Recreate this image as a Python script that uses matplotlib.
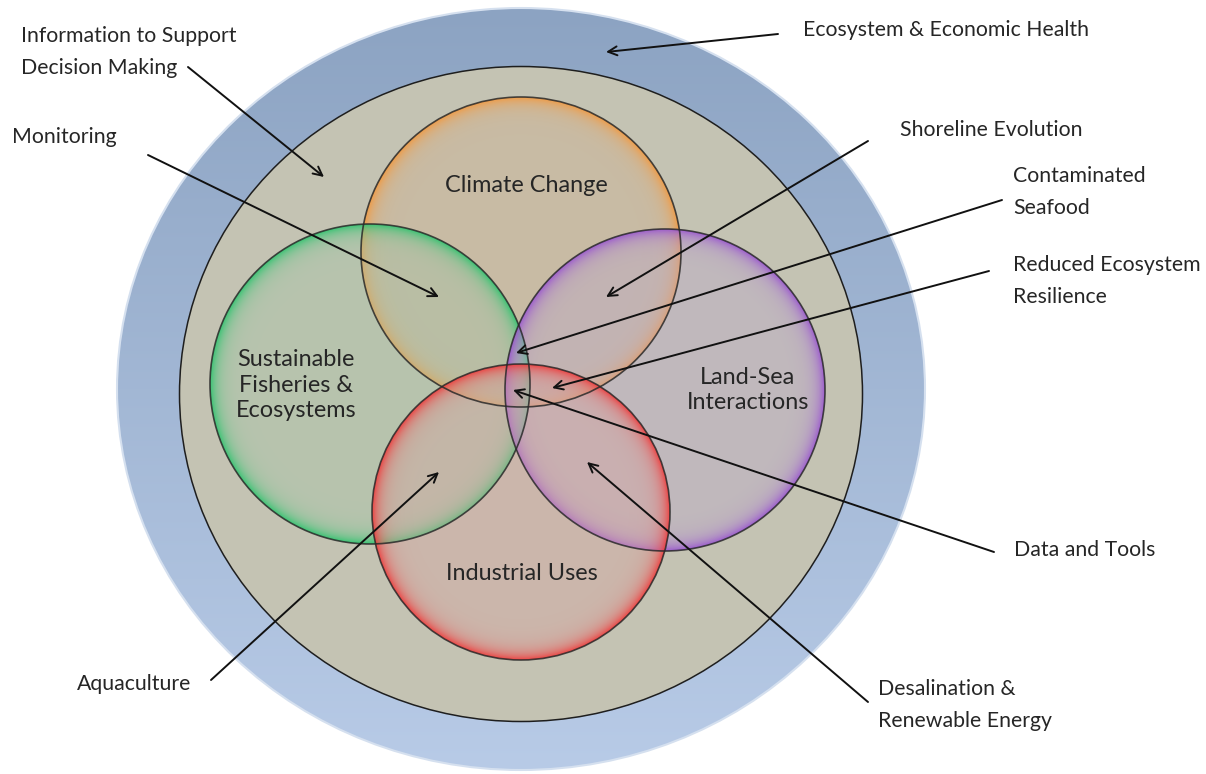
import matplotlib
matplotlib.use("Agg")
import matplotlib.pyplot as plt
from matplotlib.patches import Ellipse
import numpy as np

plt.rcParams['font.family'] = ['Lato', 'DejaVu Sans']

W, H = 1206, 774

# theme circles: label, centre, radii, edge colour, fill colour
themes = ["Climate Change", "Sustainable\nFisheries &\nEcosystems",
          "Land-Sea\nInteractions", "Industrial Uses"]
theme_xy = [(521, 252), (370, 384), (665, 390), (521, 512)]
theme_r = [(160, 155), (160, 160), (160, 161), (149, 148)]
theme_edge = ['#f39a40', '#2ec46e', '#9a55d0', '#f03a3a']
theme_fill = ['#ceb191', '#a6c3a7', '#bcabc9', '#d6a5a1']
theme_label_xy = [(526, 186), (296, 385), (748, 390), (522, 573)]

# pointer labels: text, text position, arrow tail, arrow head
notes = ["Ecosystem & Economic Health", "Information to Support\nDecision Making",
         "Monitoring", "Shoreline Evolution", "Contaminated\nSeafood",
         "Reduced Ecosystem\nResilience", "Data and Tools",
         "Desalination &\nRenewable Energy", "Aquaculture"]
note_xy = [(803, 30), (21, 52), (12, 137), (900, 130), (1013, 192),
           (1013, 281), (1014, 550), (878, 705), (77, 684)]
tail_xy = [(778, 34), (188, 67), (148, 155), (868, 141), (1002, 200),
           (989, 271), (994, 552), (868, 702), (211, 680)]
head_xy = [(606, 52), (324, 177), (439, 297), (606, 297), (516, 353),
           (552, 388), (513, 390), (587, 462), (439, 472)]

fig = plt.figure(figsize=(W / 100, H / 100), dpi=100)
ax = fig.add_axes([0, 0, 1, 1])
ax.set_xlim(0, W)
ax.set_ylim(H, 0)
ax.axis('off')

X, Y = np.meshgrid(np.arange(W) + 0.5, np.arange(H) + 0.5)


def edge_dist(cx, cy, rx, ry):
    q = np.sqrt(((X - cx) / rx) ** 2 + ((Y - cy) / ry) ** 2)
    return (1 - q) * (rx + ry) / 2


def rgb(c):
    return np.array(matplotlib.colors.to_rgb(c))


def show(layer, z):
    ax.imshow(layer, extent=(0, W, H, 0), origin='upper', interpolation='nearest', zorder=z)


# outer blue ring with vertical gradient
d = edge_dist(521, 389, 404, 381)
t = np.clip((Y - 8) / 762, 0, 1)[..., None]
col = rgb('#8ca3c2') * (1 - t) + rgb('#b8cbe7') * t
layer = np.zeros((H, W, 4))
layer[..., :3] = col
layer[..., 3] = np.clip(d + 0.5, 0, 1)
show(layer, 1)
ax.add_patch(Ellipse((521, 389), 808, 762, fill=False, ec='#d5e0ef', lw=1.5, zorder=2))

# inner beige disc
ax.add_patch(Ellipse((521, 394), 683, 655, fc='#c4c3b3', ec='#1e1e1e', lw=1.1, zorder=2))

# glowing theme circles
for (cx, cy), (rx, ry), ec, fc in zip(theme_xy, theme_r, theme_edge, theme_fill):
    d = edge_dist(cx, cy, rx, ry)
    inside = np.clip(d + 0.5, 0, 1)
    a_g = 0.95 * np.exp(-np.clip(d, 0, None) / 7.5) * inside
    a_f = 0.42 * inside
    a = a_g + a_f * (1 - a_g)
    layer = np.zeros((H, W, 4))
    safe = np.where(a > 0, a, 1)[..., None]
    layer[..., :3] = (rgb(ec) * a_g[..., None] + rgb(fc) * (a_f * (1 - a_g))[..., None]) / safe
    layer[..., 3] = a
    show(layer, 3)
for (cx, cy), (rx, ry) in zip(theme_xy, theme_r):
    ax.add_patch(Ellipse((cx, cy), 2 * rx, 2 * ry, fill=False, ec='#2a2a2a', lw=1.2,
                         alpha=0.85, zorder=3.5))

for label, (x, y) in zip(themes, theme_label_xy):
    ax.text(x, y, label, ha='center', va='center', fontsize=16.9, color='#262626',
            linespacing=1.28, zorder=5)

for label, (x, y), tail, head in zip(notes, note_xy, tail_xy, head_xy):
    ax.text(x, y, label, ha='left', va='center', fontsize=15.3, color='#262626',
            linespacing=1.72, zorder=5)
    ax.annotate('', xy=head, xytext=tail,
                arrowprops=dict(arrowstyle='->', lw=1.4, color='#111111',
                                mutation_scale=16, shrinkA=0, shrinkB=0), zorder=4)

fig.savefig('out.png', dpi=100)
